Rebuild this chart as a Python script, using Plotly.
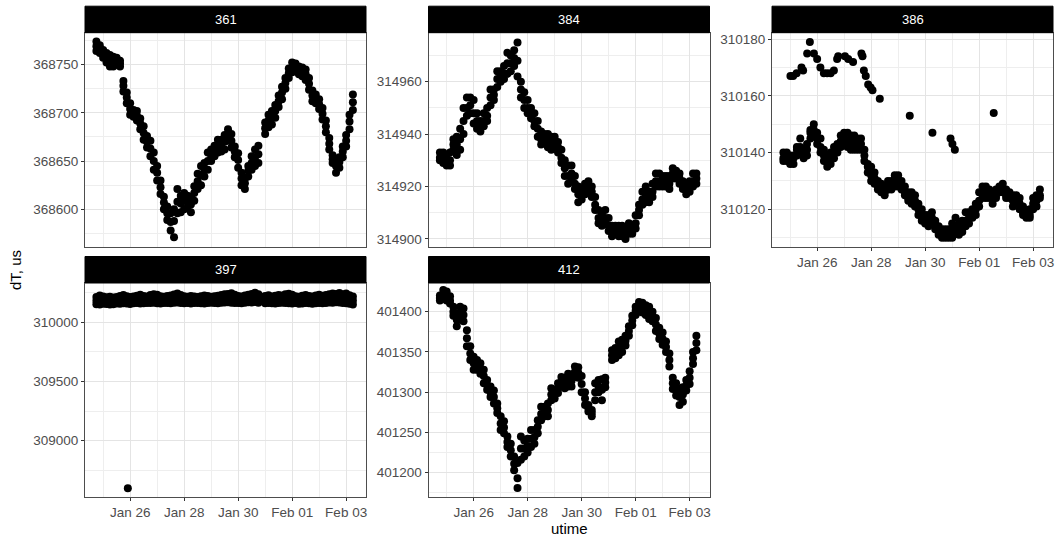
import pandas as pd
import plotly.graph_objects as go

# Common sampling grid: one reading every 3 hours
times = list(pd.date_range("2021-01-24 18:00", periods=77, freq="3h"))
day0 = pd.Timestamp("2021-01-26")

panels = ["361", "384", "386", "397", "412"]

# ---- station 361: upper edge / centre / lower edge of the point cloud
hi361 = [368774, 368770, 368765, 368762, 368760, 368758, 368757, 368754, 368733, 368721,
         368710, 368703, 368702, 368694, 368686, 368676, 368671, 368659, 368645, 368630,
         368613, 368603, 368596, 368600, 368621, 368614, 368617, 368614, 368613, 368624,
         368637, 368645, 368648, 368659, 368662, 368666, 368672, 368672, 368677, 368683,
         368678, 368665, 368658, 368638, 368632, 368645, 368655, 368662, 368666, None,
         368690, 368698, 368702, 368708, 368718, 368727, 368736, 368746, 368752, 368751,
         368748, 368747, 368745, 368736, 368723, 368719, 368714, 368705, 368692, 368674,
         368656, 368652, 368654, 368665, 368677, 368698, 368719]
mid361 = [368769, 368766, 368761, 368757, 368754, 368753, 368753, 368751, 368728, 368716,
          368704, 368700, 368697, 368689, 368679, 368670, 368663, 368650, 368638, 368623,
          368607, 368596, 368587, 368588, 368608, 368606, 368609, 368608, 368605, 368617,
          368629, 368635, 368641, 368650, 368656, 368661, 368666, 368666, 368670, 368677,
          368671, 368660, 368651, 368632, 368627, 368640, 368648, 368654, 368657, None,
          368684, 368692, 368695, 368702, 368712, 368721, 368731, 368741, 368747, 368747,
          368744, 368743, 368740, 368730, 368718, 368715, 368709, 368699, 368686, 368668,
          368652, 368645, 368649, 368660, 368671, 368691, 368711]
lo361 = [368764, 368762, 368757, 368752, 368748, 368748, 368750, 368748, 368722, 368710,
         368698, 368696, 368692, 368683, 368672, 368664, 368655, 368641, 368630, 368616,
         368600, 368589, 368578, 368571, 368596, 368597, 368600, 368602, 368597, 368609,
         368621, 368625, 368634, 368641, 368650, 368655, 368659, 368660, 368662, 368671,
         368664, 368654, 368643, 368625, 368621, 368634, 368641, 368645, 368648, None,
         368678, 368685, 368688, 368695, 368706, 368714, 368725, 368736, 368742, 368743,
         368740, 368738, 368734, 368724, 368712, 368710, 368704, 368693, 368680, 368662,
         368648, 368638, 368643, 368654, 368665, 368683, 368703]

# ---- station 384
hi384 = [314933, 314933, 314932, 314933, 314938, 314939, 314942, 314950, 314954, 314954,
         314953, 314948, 314945, 314948, 314950, 314957, 314957, 314964, 314964, 314966,
         314971, 314970, 314972, 314975, 314960, 314956, 314953, 314950, 314948, 314945,
         314941, 314940, 314940, 314939, 314939, 314937, 314934, 314930, 314928, 314928,
         314924, 314920, 314919, 314921, 314922, 314920, 314916, 314911, 314910, 314911,
         314908, 314905, 314905, 314905, 314905, 314904, 314906, 314905, 314909, 314913,
         314918, 314920, 314918, 314921, 314925, 314925, 314924, 314924, 314924, 314927,
         314926, 314925, 314922, 314921, 314922, 314925, 314925]
mid384 = [314931, 314931, 314930, 314930, 314936, 314936, 314938, 314945, 314950, 314951,
          314948, 314945, 314943, 314945, 314947, 314954, 314955, 314961, 314962, 314963,
          314967, 314967, 314969, 314968, 314957, 314953, 314950, 314948, 314945, 314942,
          314938, 314938, 314937, 314936, 314937, 314935, 314931, 314927, 314924, 314925,
          314921, 314917, 314917, 314919, 314920, 314918, 314913, 314908, 314907, 314908,
          314905, 314903, 314903, 314903, 314903, 314902, 314904, 314903, 314906, 314911,
          314915, 314917, 314916, 314918, 314922, 314922, 314922, 314922, 314921, 314925,
          314924, 314923, 314920, 314919, 314920, 314922, 314923]
lo384 = [314930, 314929, 314928, 314928, 314934, 314932, 314934, 314940, 314947, 314948,
         314944, 314942, 314941, 314943, 314945, 314951, 314953, 314958, 314960, 314961,
         314963, 314964, 314966, 314962, 314954, 314950, 314948, 314946, 314943, 314939,
         314936, 314937, 314935, 314934, 314935, 314933, 314929, 314924, 314921, 314923,
         314919, 314914, 314915, 314917, 314918, 314916, 314911, 314906, 314905, 314906,
         314903, 314901, 314902, 314901, 314901, 314900, 314902, 314902, 314904, 314909,
         314913, 314914, 314914, 314916, 314920, 314920, 314920, 314920, 314919, 314923,
         314923, 314921, 314919, 314917, 314918, 314920, 314921]

# ---- station 386: main track
hi386 = [310140, 310140, 310139, 310139, 310142, 310145, 310141, 310143, 310148, 310150,
         310147, 310145, 310141, 310139, 310140, 310142, 310143, 310146, 310147, 310147,
         310146, 310146, 310145, 310145, 310141, 310136, 310135, 310133, 310130, 310129,
         310128, 310130, 310130, 310132, 310132, 310130, 310128, 310126, 310126, 310125,
         310122, 310120, 310118, 310118, 310119, 310116, 310114, 310113, 310113, 310113,
         310115, 310117, 310115, 310116, 310119, 310119, 310120, 310122, 310126, 310128,
         310128, 310127, 310126, 310127, 310128, 310129, 310127, 310126, 310125, 310125,
         310124, 310121, 310119, 310120, 310124, 310125, 310127]
mid386 = [310138, 310139, 310137, 310138, 310141, 310142, 310140, 310141, 310147, 310148,
          310145, 310142, 310139, 310137, 310138, 310140, 310141, 310144, 310145, 310144,
          310143, 310144, 310143, 310143, 310139, 310135, 310132, 310131, 310128, 310127,
          310126, 310128, 310129, 310130, 310130, 310128, 310126, 310124, 310124, 310123,
          310120, 310118, 310116, 310116, 310117, 310115, 310112, 310111, 310112, 310111,
          310112, 310114, 310113, 310114, 310116, 310117, 310118, 310120, 310123, 310126,
          310126, 310125, 310124, 310125, 310127, 310127, 310125, 310125, 310123, 310123,
          310122, 310119, 310118, 310118, 310122, 310123, 310125]
lo386 = [310137, 310137, 310136, 310136, 310139, 310140, 310138, 310139, 310145, 310146,
         310143, 310140, 310137, 310135, 310136, 310138, 310140, 310142, 310143, 310142,
         310141, 310141, 310141, 310141, 310137, 310133, 310130, 310129, 310127, 310126,
         310125, 310127, 310127, 310128, 310128, 310127, 310125, 310123, 310122, 310121,
         310118, 310116, 310115, 310114, 310115, 310113, 310111, 310110, 310110, 310110,
         310110, 310112, 310111, 310112, 310114, 310115, 310117, 310118, 310121, 310124,
         310124, 310124, 310122, 310124, 310126, 310126, 310124, 310124, 310121, 310122,
         310120, 310118, 310117, 310117, 310120, 310121, 310124]
# station 386: secondary readings (days relative to Jan 26)
days386b = [-0.99, -0.89, -0.76, -0.58, -0.52, -0.37, -0.27, -0.12, 0.0, 0.12,
            0.25, 0.37, 0.50, 0.62, 0.74, 0.78, 1.03, 1.15, 1.33, 1.64,
            1.68, 1.73, 1.80, 1.89, 1.98, 2.05, 2.32, 3.43, 4.27, 4.94,
            5.01, 5.10, 6.54]
vals386b = [310167, 310167, 310168, 310170, 310169, 310175, 310179, 310175, 310173, 310170,
            310168, 310168, 310168, 310169, 310173, 310174, 310174, 310173, 310172, 310175,
            310174, 310169, 310167, 310164, 310163, 310162, 310159, 310153, 310147, 310145,
            310143, 310141, 310154]

# ---- station 397
hi397 = [310214, 310226, 310218, 310212, 310216, 310210, 310214, 310222, 310230, 310220,
         310214, 310218, 310224, 310232, 310222, 310218, 310230, 310238, 310232, 310220,
         310216, 310222, 310226, 310234, 310244, 310230, 310220, 310216, 310222, 310218,
         310214, 310220, 310226, 310222, 310216, 310220, 310224, 310230, 310236, 310240,
         310246, 310232, 310222, 310218, 310226, 310232, 310240, 310250, 310236, None,
         310222, 310228, 310218, 310224, 310230, 310226, 310236, 310242, 310232, 310220,
         310216, 310224, 310230, 310222, 310218, 310226, 310232, 310224, 310230, 310236,
         310244, 310240, 310248, 310236, 310244, 310228, 310218]
mid397 = [310183, 310188, 310187, 310183, 310183, 310181, 310186, 310189, 310195, 310189,
          310184, 310189, 310193, 310195, 310191, 310191, 310196, 310202, 310196, 310189,
          310189, 310193, 310193, 310200, 310206, 310197, 310190, 310189, 310190, 310190,
          310189, 310190, 310192, 310192, 310191, 310192, 310192, 310198, 310202, 310205,
          310206, 310197, 310193, 310189, 310196, 310201, 310204, 310211, 310201, None,
          310191, 310196, 310189, 310191, 310196, 310196, 310200, 310201, 310195, 310191,
          310186, 310191, 310196, 310191, 310187, 310193, 310198, 310192, 310197, 310202,
          310205, 310205, 310208, 310200, 310202, 310192, 310184]
lo397 = [310152, 310150, 310156, 310154, 310150, 310152, 310158, 310156, 310160, 310158,
         310154, 310160, 310162, 310158, 310160, 310164, 310162, 310166, 310160, 310158,
         310162, 310164, 310160, 310166, 310168, 310164, 310160, 310162, 310158, 310162,
         310164, 310160, 310158, 310162, 310166, 310164, 310160, 310166, 310168, 310170,
         310166, 310162, 310164, 310160, 310166, 310170, 310168, 310172, 310166, None,
         310160, 310164, 310160, 310158, 310162, 310166, 310164, 310160, 310158, 310162,
         310156, 310158, 310162, 310160, 310156, 310160, 310164, 310160, 310164, 310168,
         310166, 310170, 310168, 310164, 310160, 310156, 310150]
days397b = [-0.086]
vals397b = [308598]

# ---- station 412
hi412 = [401420, 401427, 401425, 401419, 401406, 401398, 401406, 401404, 401377, 401357,
         401344, 401340, 401336, 401328, 401315, 401307, 401302, 401286, 401270, 401264,
         401245, 401236, 401220, 401212, 401245, 401240, 401242, 401253, 401253, 401265,
         401282, 401282, 401286, 401305, 401303, 401311, 401319, 401318, 401323, 401322,
         401332, 401331, 401320, 401300, 401284, 401278, 401311, 401315, 401316, 401318,
         None, 401352, 401355, 401363, 401365, 401370, 401382, 401395, 401406, 401412,
         401411, 401408, 401406, 401400, 401392, 401380, 401374, 401363, 401348, 401318,
         401311, 401304, 401306, 401315, 401326, 401350, 401370]
mid412 = [401417, 401421, 401419, 401414, 401400, 401390, 401398, 401396, 401367, 401348,
          401336, 401334, 401329, 401320, 401309, 401300, 401294, 401280, 401261, 401256,
          401238, 401228, 401211, 401193, 401230, 401230, 401233, 401242, 401244, 401257,
          401273, 401276, 401278, 401297, 401297, 401305, 401313, 401311, 401315, 401314,
          401325, 401324, 401310, 401292, 401280, 401274, 401300, 401307, 401303, 401312,
          None, 401346, 401348, 401354, 401357, 401364, 401376, 401389, 401401, 401406,
          401405, 401402, 401398, 401394, 401384, 401373, 401366, 401356, 401340, 401311,
          401303, 401294, 401297, 401308, 401318, 401342, 401361]
lo412 = [401414, 401416, 401414, 401410, 401395, 401382, 401390, 401388, 401357, 401340,
         401328, 401328, 401323, 401311, 401303, 401294, 401286, 401274, 401253, 401249,
         401232, 401220, 401203, 401181, 401216, 401220, 401225, 401232, 401236, 401249,
         401265, 401270, 401270, 401290, 401292, 401299, 401307, 401305, 401307, 401307,
         401319, 401318, 401300, 401284, 401276, 401270, 401290, 401300, 401290, 401306,
         None, 401340, 401342, 401346, 401350, 401358, 401370, 401383, 401396, 401400,
         401399, 401396, 401391, 401388, 401376, 401366, 401359, 401350, 401332, 401304,
         401296, 401284, 401288, 401302, 401310, 401335, 401352]

# y-axis ticks per panel: (range, major step, minor step)
yscales = {
    "361": ([368561, 368783], 50, 25),
    "384": ([314896.9, 314978.7], 20, 10),
    "386": ([310106.7, 310182.3], 20, 10),
    "397": ([308524, 310332], 500, 250),
    "412": ([401169.8, 401435.6], 50, 25),
}

series = {
    "361": (hi361 + mid361 + lo361, [], []),
    "384": (hi384 + mid384 + lo384, [], []),
    "386": (hi386 + mid386 + lo386, days386b, vals386b),
    "397": (hi397 + mid397 + lo397, days397b, vals397b),
    "412": (hi412 + mid412 + lo412, [], []),
}

W, H = 1056, 537
cols = [(85, 366), (428.5, 709.5), (772, 1053)]
rows = [(32.7, 247), (283, 497)]
strip_h = 26.5
cells = {"361": (0, 0), "384": (1, 0), "386": (2, 0), "397": (0, 1), "412": (1, 1)}
with_xlabels = {"386", "397", "412"}

FONT = "Liberation Sans"
GRID = "#E4E4E4"
GRID_MINOR = "#EEEEEE"
BORDER = "#4D4D4D"

fig = go.Figure()
layout = dict(
    width=W, height=H, autosize=False,
    margin=dict(l=0, r=0, t=0, b=0),
    paper_bgcolor="white", plot_bgcolor="white",
    showlegend=False,
    font=dict(family=FONT, size=13.5, color="#4D4D4D"),
    shapes=[], annotations=[],
)

xrange = ["2021-01-24 07:52", "2021-02-03 17:39"]

for k, name in enumerate(panels):
    n = k + 1
    c, r = cells[name]
    x0, x1 = cols[c]
    top, bot = rows[r]
    xd = [x0 / W, x1 / W]
    yd = [1 - bot / H, 1 - top / H]
    xa = "xaxis" if n == 1 else f"xaxis{n}"
    ya = "yaxis" if n == 1 else f"yaxis{n}"
    xr = "x" if n == 1 else f"x{n}"
    yr = "y" if n == 1 else f"y{n}"

    yvals, bdays, bvals = series[name]
    xs = times * 3 + [day0 + pd.Timedelta(days=d) for d in bdays]
    ys = yvals + bvals
    fig.add_trace(go.Scatter(
        x=xs, y=ys, mode="markers", xaxis=xr, yaxis=yr,
        marker=dict(color="black", size=8, line=dict(width=0)),
        hoverinfo="skip",
    ))

    show_x = name in with_xlabels
    layout[xa] = dict(
        domain=xd, anchor=yr, type="date", range=xrange,
        tick0="2021-01-26", dtick=2 * 86400000, tickformat="%b %d",
        showticklabels=show_x, ticks="outside" if show_x else "",
        ticklen=3, tickcolor="#333333", tickwidth=1,
        tickfont=dict(family=FONT, size=13.5, color="#4D4D4D"),
        showgrid=True, gridcolor=GRID, gridwidth=1,
        minor=dict(tick0="2021-01-25", dtick=86400000, showgrid=True,
                   gridcolor=GRID_MINOR, gridwidth=0.7, ticks=""),
        showline=True, mirror=True, linecolor=BORDER, linewidth=1,
        zeroline=False, fixedrange=True,
    )
    yrng, step, mstep = yscales[name]
    layout[ya] = dict(
        domain=yd, anchor=xr, range=yrng,
        tick0=0, dtick=step, tickformat="d",
        ticks="outside", ticklen=3, tickcolor="#333333", tickwidth=1,
        tickfont=dict(family=FONT, size=13.5, color="#4D4D4D"),
        showgrid=True, gridcolor=GRID, gridwidth=1,
        minor=dict(tick0=0, dtick=mstep, showgrid=True,
                   gridcolor=GRID_MINOR, gridwidth=0.7, ticks=""),
        showline=True, mirror=True, linecolor=BORDER, linewidth=1,
        zeroline=False, fixedrange=True,
    )

    # facet strip
    layout["shapes"].append(dict(
        type="rect", xref="paper", yref="paper",
        x0=x0 / W, x1=x1 / W, y0=1 - top / H, y1=1 - (top - strip_h) / H,
        fillcolor="black", line=dict(color="black", width=1), layer="above",
    ))
    layout["annotations"].append(dict(
        text=name, xref="paper", yref="paper",
        x=(x0 + x1) / 2 / W, y=1 - (top - strip_h / 2) / H,
        xanchor="center", yanchor="middle", showarrow=False,
        font=dict(family=FONT, size=13, color="white"),
    ))

# axis titles
layout["annotations"].append(dict(
    text="utime", xref="paper", yref="paper",
    x=((85 + 1053) / 2) / W, y=1 - 528 / H,
    xanchor="center", yanchor="middle", showarrow=False,
    font=dict(family=FONT, size=15, color="black"),
))
layout["annotations"].append(dict(
    text="dT, us", xref="paper", yref="paper",
    x=15 / W, y=1 - 270 / H, textangle=-90,
    xanchor="center", yanchor="middle", showarrow=False,
    font=dict(family=FONT, size=15, color="black"),
))

fig.update_layout(**layout)
fig.write_html("out.html")
